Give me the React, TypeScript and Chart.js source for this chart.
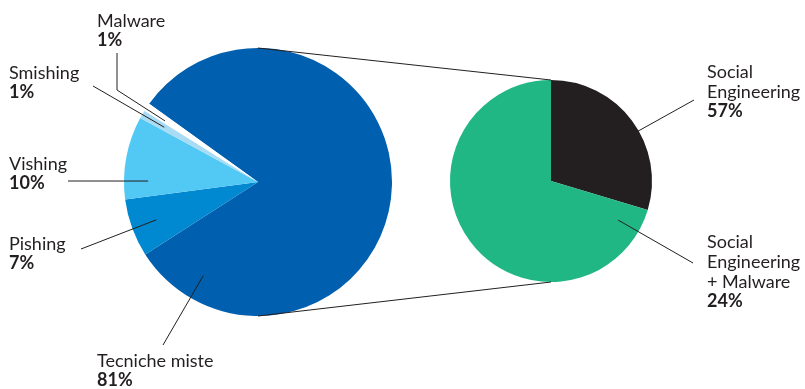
import React, { useEffect, useRef } from "react";
import { Chart, registerables } from "chart.js";

Chart.register(...registerables);

// Left pie: attack techniques
const leftCategories = ["Tecniche miste", "Pishing", "Vishing", "Smishing", "Malware"];
const leftValues = [81, 7, 10, 1, 1];
const leftColors = ["#005FAE", "#0088D0", "#52C8F4", "#A8DCF5", "#FFFFFF"];

// Right pie: breakdown of "Tecniche miste" (as drawn: dark slice then green slice)
const rightCategories = ["Social Engineering", "Social Engineering + Malware"];
const rightValues = [24, 57];
const rightColors = ["#231F20", "#21B784"];

// Annotation texts as shown in the picture
const leftLabelLines = [
  ["Tecniche miste"],
  ["Pishing"],
  ["Vishing"],
  ["Smishing"],
  ["Malware"],
];
const leftPctText = ["81%", "7%", "10%", "1%", "1%"];
const rightLabelLines = [["Social", "Engineering"], ["Social", "Engineering", "+ Malware"]];
const rightPctText = ["57%", "24%"];

const TEXT = "#231F20";
const FONT = "Lato";
const LINE_H = 20;

// layout of annotations: inner point in polar coords (deg, fraction of radius) relative to pie,
// then polyline points and text anchor
const leftAnno = [
  { ang: 120.3, fr: 0.81, path: [[163, 345]], tx: 97, ty: 367 },
  { ang: 159.6, fr: 0.81, path: [[81, 249]], tx: 9, ty: 250 },
  { ang: 180.5, fr: 0.82, path: [[68, 181]], tx: 9, ty: 170 },
  { ang: -149.7, fr: 0.81, path: [[93, 86]], tx: 9, ty: 79 },
  { ang: -146.7, fr: 0.83, path: [[117, 90], [117, 53]], tx: 97, ty: 27 },
];
const rightAnno = [
  { ang: -29.8, fr: 0.99, path: [[694, 100]], tx: 707, ty: 78 },
  { ang: 30.2, fr: 0.77, path: [[693, 263]], tx: 707, ty: 248 },
];

function drawAnnos(chart: any, anno: any[], lines: string[][], pcts: string[]) {
  const ctx = chart.ctx as CanvasRenderingContext2D;
  const arc: any = chart.getDatasetMeta(0).data[0];
  const cx = arc.x, cy = arc.y, r = arc.outerRadius;
  ctx.save();
  ctx.strokeStyle = TEXT;
  ctx.lineWidth = 1;
  anno.forEach((a, i) => {
    const rad = (a.ang * Math.PI) / 180;
    ctx.beginPath();
    ctx.moveTo(cx + Math.cos(rad) * r * a.fr, cy + Math.sin(rad) * r * a.fr);
    a.path.forEach((p: number[]) => ctx.lineTo(p[0], p[1]));
    ctx.stroke();
    ctx.fillStyle = TEXT;
    ctx.textAlign = "left";
    ctx.textBaseline = "alphabetic";
    ctx.font = `400 18px ${FONT}`;
    let y = a.ty;
    lines[i].forEach((t) => {
      ctx.fillText(t, a.tx, y);
      y += LINE_H;
    });
    ctx.font = `bold 18px ${FONT}`;
    ctx.fillText(pcts[i], a.tx, y - 1);
  });
  ctx.restore();
}

export default function App() {
  const leftRef = useRef<HTMLCanvasElement>(null);
  const rightRef = useRef<HTMLCanvasElement>(null);

  useEffect(() => {
    let leftChart: any = null;
    const leftPlugin = {
      id: "leftAnno",
      afterDraw(chart: any) {
        drawAnnos(chart, leftAnno, leftLabelLines, leftPctText);
      },
    };
    const rightPlugin = {
      id: "rightAnno",
      afterDraw(chart: any) {
        const ctx = chart.ctx as CanvasRenderingContext2D;
        const a2: any = chart.getDatasetMeta(0).data[0];
        if (leftChart) {
          const a1: any = leftChart.getDatasetMeta(0).data[0];
          ctx.save();
          ctx.strokeStyle = TEXT;
          ctx.lineWidth = 1;
          ctx.beginPath();
          ctx.moveTo(a1.x, a1.y - a1.outerRadius);
          ctx.lineTo(a2.x, a2.y - a2.outerRadius);
          ctx.moveTo(a1.x, a1.y + a1.outerRadius);
          ctx.lineTo(a2.x, a2.y + a2.outerRadius);
          ctx.stroke();
          ctx.restore();
        }
        drawAnnos(chart, rightAnno, rightLabelLines, rightPctText);
      },
    };

    leftChart = new Chart(leftRef.current!, {
      type: "pie",
      data: {
        labels: leftCategories,
        datasets: [
          {
            data: leftValues,
            backgroundColor: leftColors,
            borderWidth: 0,
            offset: 0,
            hoverOffset: 0,
          } as any,
        ],
      },
      options: {
        responsive: false,
        animation: false,
        rotation: -54.3,
        layout: { padding: { left: 124, top: 48, right: 413, bottom: 73 } },
        plugins: { legend: { display: false }, tooltip: { enabled: false } },
        events: [],
      } as any,
      plugins: [leftPlugin],
    });

    const rightChart = new Chart(rightRef.current!, {
      type: "pie",
      data: {
        labels: rightCategories,
        datasets: [
          {
            data: rightValues,
            backgroundColor: rightColors,
            borderWidth: 0,
            offset: 0,
            hoverOffset: 0,
          } as any,
        ],
      },
      options: {
        responsive: false,
        animation: false,
        rotation: 0,
        layout: { padding: { left: 450, top: 80, right: 153, bottom: 107 } },
        plugins: { legend: { display: false }, tooltip: { enabled: false } },
        events: [],
      } as any,
      plugins: [rightPlugin],
    });

    return () => {
      rightChart.destroy();
      leftChart.destroy();
    };
  }, []);

  const cs: React.CSSProperties = { position: "absolute", left: 0, top: 0 };
  return (
    <div style={{ position: "fixed", left: 0, top: 0, width: 805, height: 389, background: "#fff" }}>
      <canvas ref={leftRef} width={805} height={389} style={cs} />
      <canvas ref={rightRef} width={805} height={389} style={cs} />
    </div>
  );
}
